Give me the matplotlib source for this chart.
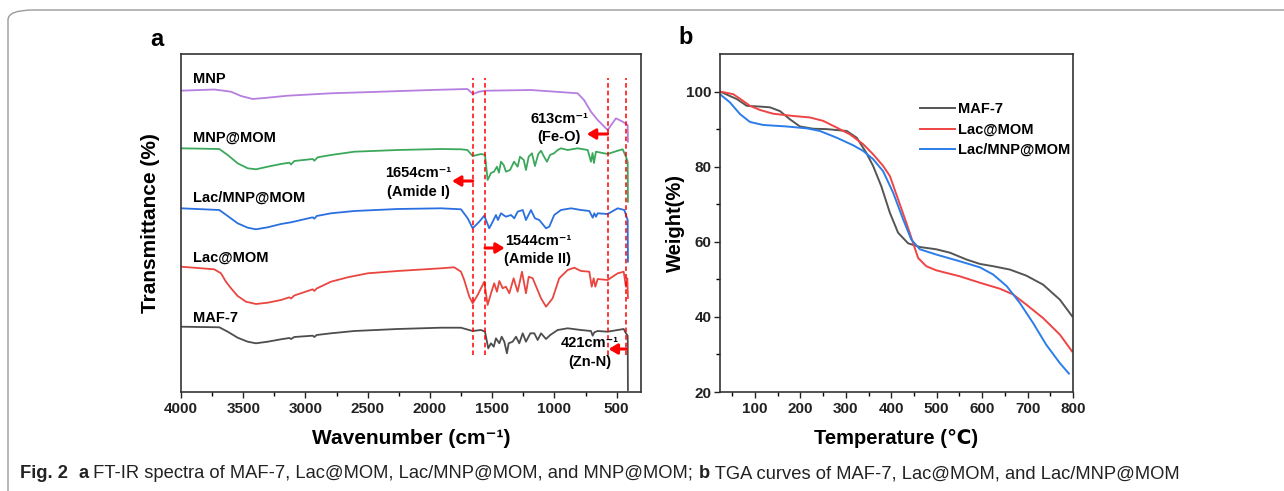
import numpy as np
import matplotlib.pyplot as plt
from matplotlib.patches import FancyBboxPatch

plt.rcParams['font.family'] = ['Liberation Sans', 'DejaVu Sans']
plt.rcParams['font.weight'] = 'bold'

# ---- FT-IR spectra (offset, arbitrary transmittance units) ----
mnp_wn = [4000, 3733, 3598, 3518, 3424, 3304, 3143, 2795, 2394, 1992, 1700, 1655, 1606, 1550, 1189, 814, 763,
          707, 653, 573, 506, 452, 412, 410]
mnp_t = [301.3, 302.5, 300.3, 296, 293, 294.3, 296.3, 298.7, 300.3, 302, 303, 298, 300.3, 301.3, 302, 298.7, 292,
         280.3, 272, 262, 273.7, 270.3, 267, 250.3]

mnpmom_wn = [4000, 3692, 3625, 3545, 3464, 3398, 3304, 3197, 3130, 3116, 3090, 2942, 2929, 2902, 2795, 2608, 2260,
             1912, 1751, 1700, 1657, 1590, 1558, 1537, 1510, 1486, 1462, 1446, 1430, 1408, 1390, 1357, 1325, 1296,
             1277, 1247, 1229, 1207, 1181, 1157, 1130, 1108, 1084, 1060, 1036, 1004, 974, 948, 894, 814, 733, 707,
             694, 683, 667, 573, 492, 452, 426, 412, 410]
mnpmom_t = [243.7, 243, 237, 228.7, 223.7, 222.7, 225.3, 228, 229.3, 227.5, 231, 233, 231.3, 234.7, 237, 240.3, 242,
            243, 242.7, 242, 236, 238, 237, 212, 219, 220.3, 225.3, 219.3, 230.3, 227, 220.3, 222, 230.3, 225.3,
            235.3, 232, 222, 235.3, 238.7, 226, 238, 241.3, 235.3, 230.3, 237, 238.7, 242, 243.7, 242, 243.7, 242,
            230.3, 239, 229, 240.3, 238, 241.3, 242.7, 235.3, 230.3, 190.3]

lacmnp_wn = [4000, 3692, 3625, 3545, 3464, 3398, 3304, 3197, 3116, 2942, 2929, 2910, 2795, 2608, 2260, 1912, 1751,
             1697, 1657, 1604, 1564, 1524, 1496, 1470, 1454, 1430, 1390, 1349, 1323, 1296, 1255, 1229, 1189, 1157,
             1122, 1068, 1042, 1002, 948, 867, 787, 720, 693, 680, 667, 653, 573, 492, 439, 426, 412, 410]
lacmnp_t = [183.7, 182, 176, 168.7, 164.3, 162.7, 164.7, 168, 169.7, 174.7, 173.3, 176, 178.7, 181, 183, 183.7,
            182.7, 173.7, 163.7, 170.3, 176.3, 163.7, 170.3, 177, 172, 178.7, 175.3, 177, 173.7, 180.3, 182, 172,
            182, 173.7, 172, 163.7, 165.3, 177, 182, 183.7, 182, 181, 174.3, 178.7, 175.3, 178.7, 178, 183.7, 182,
            177, 172, 130.3]

lacmom_wn = [4000, 3733, 3679, 3639, 3598, 3545, 3478, 3398, 3304, 3197, 3130, 3116, 3090, 2942, 2929, 2910, 2795,
             2661, 2500, 2260, 1912, 1805, 1751, 1725, 1684, 1657, 1617, 1564, 1537, 1510, 1484, 1462, 1443, 1416,
             1390, 1363, 1328, 1296, 1261, 1229, 1207, 1175, 1108, 1068, 1015, 962, 894, 841, 787, 720, 701, 685,
             672, 653, 573, 492, 444, 426, 415, 410]
lacmom_t = [125.3, 122.7, 118.7, 110.3, 103.7, 96, 90.3, 88, 89.3, 92, 94.7, 93.5, 96.5, 102.7, 101, 103.5, 110.3,
            114.7, 118.7, 121, 123.7, 124.7, 120.3, 112, 95.3, 88.7, 97, 110.3, 87, 98.7, 108.7, 100.3, 111, 103.7,
            105.3, 98.7, 113.7, 100.3, 120.3, 98.7, 115.3, 113.7, 93.7, 85.3, 93.7, 113.7, 122, 124.3, 121, 120.3,
            105.3, 113.7, 105.3, 113, 112, 118.7, 120.3, 105.3, 113.7, 94]

maf_wn = [4000, 3692, 3625, 3545, 3464, 3398, 3304, 3197, 3130, 3116, 3090, 2942, 2929, 2910, 2795, 2608, 2260,
          1912, 1751, 1657, 1590, 1558, 1532, 1510, 1488, 1470, 1443, 1424, 1403, 1382, 1368, 1336, 1309, 1283,
          1255, 1229, 1194, 1162, 1135, 1108, 1068, 1034, 974, 894, 787, 707, 693, 680, 653, 573, 492, 444, 426,
          412, 410]
maf_t = [65.3, 64.7, 60.3, 54.3, 50.3, 48.7, 50.3, 52.7, 54, 53, 55, 56.3, 55, 57, 58.7, 61, 63, 64.3, 64.3, 61,
         62, 60.3, 43.7, 48.7, 45.3, 53.7, 48.7, 55.3, 50.3, 38.7, 48.7, 50.3, 55.3, 48.7, 58.7, 50.3, 58.7, 58.7,
         52, 58.7, 53, 57, 62, 63.7, 62, 61, 56.3, 59.7, 61, 60.3, 62, 63, 58.7, 56.3, 2]

ir_names = ['MNP', 'MNP@MOM', 'Lac/MNP@MOM', 'Lac@MOM', 'MAF-7']
ir_colors = ['#b57ee0', '#3ca85c', '#2a6fdf', '#ea4640', '#4d4d4d']
ir_label_y = [313, 254, 194, 134, 74]
marker_wn = [1657, 1558, 573, 424]

# ---- TGA curves ----
maf_T = [23, 60, 82, 111, 133, 155, 177, 199, 228, 258, 302, 324, 345, 360, 378, 397, 415, 437, 463, 499, 529,
         565, 595, 624, 661, 697, 734, 771, 798]
maf_w = [100, 98, 96.2, 96, 95.8, 94.8, 92.6, 90.7, 90.1, 90, 89.5, 87.7, 83.7, 80.2, 74.8, 67.7, 62.4, 59.6, 58.6,
         58, 57.1, 55.3, 54.1, 53.5, 52.6, 51, 48.6, 44.6, 40.2]
lac_T = [23, 52, 67, 89, 111, 140, 184, 221, 250, 280, 309, 338, 360, 382, 397, 415, 433, 448, 459, 477, 499, 551,
         595, 639, 668, 697, 734, 771, 798]
lac_w = [100, 99.3, 98.1, 96.2, 95.1, 94.1, 93.5, 93.1, 92.2, 90.4, 88.6, 86, 83.3, 80.2, 77.5, 71.3, 65.1, 59.7,
         55.7, 53.5, 52.4, 50.8, 49.1, 47.5, 46, 43.3, 39.7, 35.3, 30.8]
lacmnp_T = [23, 45, 67, 89, 118, 170, 214, 243, 280, 316, 338, 360, 382, 404, 426, 444, 463, 499, 551, 595, 624,
            654, 683, 712, 741, 771, 791]
lacmnp_w = [99.3, 97.1, 94, 91.9, 91.1, 90.7, 90.2, 89.5, 87.7, 85.7, 84.2, 82, 78.8, 73.1, 66, 60.6, 58, 56.6,
            54.8, 53.2, 51.3, 48.2, 43.7, 38.4, 32.6, 27.7, 24.9]
tga_names = ['MAF-7', 'Lac@MOM', 'Lac/MNP@MOM']
tga_colors = ['#555555', '#f04444', '#2b7de9']

W, H = 1284, 491
fig = plt.figure(figsize=(W / 100, H / 100), dpi=100)

# outer rounded frame
frame = FancyBboxPatch((8 / W, -0.1), 1.2, 1.1 - 10 / H, boxstyle='round,pad=0,rounding_size=0.02',
                       transform=fig.transFigure, fill=False, ec='#9a9a9a', lw=1.0)
fig.patches.append(frame)

spine_c = '#333333'

# ---------------- panel a ----------------
ax1 = fig.add_axes([181 / W, 1 - 392 / H, 460 / W, 338 / H])
spectra = [(mnp_wn, mnp_t), (mnpmom_wn, mnpmom_t), (lacmnp_wn, lacmnp_t), (lacmom_wn, lacmom_t), (maf_wn, maf_t)]
for (wn, t), name, c, ly in zip(spectra, ir_names, ir_colors, ir_label_y):
    ax1.plot(wn, t, color=c, lw=1.3)
    ax1.text(3905, ly, name, fontsize=10.5, fontweight='bold', va='center', ha='left')

for w in marker_wn:
    ax1.plot([w, w], [37, 314], color='red', lw=1.1, ls=(0, (3, 2)))

arr = dict(arrowstyle='-|>,head_length=0.5,head_width=0.3', color='red', lw=2.2, shrinkA=0, shrinkB=0)
ax1.annotate('', xy=(1823, 211), xytext=(1657, 211), arrowprops=arr)
ax1.annotate('', xy=(1400, 144), xytext=(1558, 144), arrowprops=arr)
ax1.annotate('', xy=(740, 258), xytext=(573, 258), arrowprops=arr)
ax1.annotate('', xy=(565, 43), xytext=(424, 43), arrowprops=arr)

notes = [(2096, 219, '1654cm⁻¹', '(Amide I)', 200),
         (1133, 151, '1544cm⁻¹', '(Amide II)', 133),
         (964, 273, '613cm⁻¹', '(Fe-O)', 255),
         (715, 49, '421cm⁻¹', '(Zn-N)', 30)]
for x, y1, s1, s2, y2 in notes:
    ax1.text(x, y1, s1, fontsize=10.5, fontweight='bold', ha='center', va='center')
    ax1.text(x, y2, s2, fontsize=10.5, fontweight='bold', ha='center', va='center')

ax1.set_xlim(4000, 305)
ax1.set_ylim(0, 338)
ax1.set_xticks([4000, 3500, 3000, 2500, 2000, 1500, 1000, 500])
ax1.set_xticks(np.arange(3750, 300, -500), minor=True)
ax1.set_yticks([])
ax1.tick_params(axis='x', direction='out', length=4, width=1, labelsize=11, colors='#222222')
ax1.tick_params(axis='x', which='minor', direction='out', length=3, width=1)
for lab in ax1.get_xticklabels():
    lab.set_fontweight('bold')
ax1.set_xlabel('Wavenumber (cm⁻¹)', fontsize=15, fontweight='bold', labelpad=9)
ax1.set_ylabel('Transmittance (%)', fontsize=15, fontweight='bold', labelpad=15)
for sp in ax1.spines.values():
    sp.set_color(spine_c)
    sp.set_linewidth(1.2)
fig.text(150 / W, 1 - 40 / H, 'a', fontsize=17, fontweight='bold', ha='left', va='center')

# ---------------- panel b ----------------
ax2 = fig.add_axes([720 / W, 1 - 392 / H, 353 / W, 338 / H])
for T, w, name, c in zip([maf_T, lac_T, lacmnp_T], [maf_w, lac_w, lacmnp_w], tga_names, tga_colors):
    ax2.plot(T, w, color=c, lw=1.4, label=name)
ax2.set_xlim(23, 800)
ax2.set_ylim(20, 110)
ax2.set_xticks(range(100, 801, 100))
ax2.set_xticks(range(50, 801, 100), minor=True)
ax2.set_yticks(range(20, 101, 20))
ax2.set_yticks(range(30, 101, 20), minor=True)
ax2.tick_params(direction='out', length=4, width=1, labelsize=11, colors='#222222')
ax2.tick_params(axis='y', pad=2)
ax2.tick_params(which='minor', direction='out', length=3, width=1)
for lab in ax2.get_xticklabels() + ax2.get_yticklabels():
    lab.set_fontweight('bold')
ax2.set_xlabel('Temperature (℃)', fontsize=14.5, fontweight='bold', labelpad=9)
ax2.set_ylabel('Weight(%)', fontsize=14.5, fontweight='bold', labelpad=1)
for sp in ax2.spines.values():
    sp.set_color(spine_c)
    sp.set_linewidth(1.2)
leg = ax2.legend(loc='upper left', bbox_to_anchor=(0.55, 0.875), frameon=False, fontsize=10.5,
                 handlelength=2.4, handletextpad=0.2, labelspacing=0.45, borderaxespad=0)
for t in leg.get_texts():
    t.set_fontweight('bold')
fig.text(678 / W, 1 - 38 / H, 'b', fontsize=17, fontweight='bold', ha='left', va='center')

# ---------------- caption ----------------
cap = [('Fig. 2  ', 'bold'), ('a', 'bold'), (' FT-IR spectra of MAF-7, Lac@MOM, Lac/MNP@MOM, and MNP@MOM; ', 'normal'),
       ('b', 'bold'), (' TGA curves of MAF-7, Lac@MOM, and Lac/MNP@MOM', 'normal')]
fig.canvas.draw()
r = fig.canvas.get_renderer()
fs = 13.2
x = 20
for s, wt in cap:
    t = fig.text(x / W, 1 - 474 / H, s, fontsize=fs, fontweight=wt, va='center', ha='left',
                 family=['Liberation Sans Narrow', 'Liberation Sans', 'DejaVu Sans'], color='#222222')
    bb = t.get_window_extent(r)
    x = bb.x1

fig.savefig('out.png', dpi=100)
